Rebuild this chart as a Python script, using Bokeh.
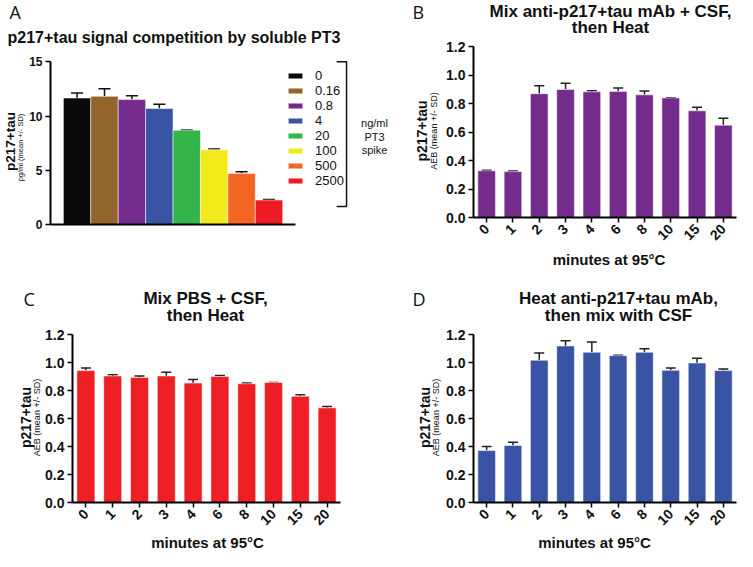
from math import pi
from bokeh.plotting import figure
from bokeh.models import (ColumnDataSource, Range1d, FactorRange, FixedTicker, PrintfTickFormatter,
                          Label, Legend, LegendItem, Whisker, TeeHead)
from bokeh.layouts import row, column
from bokeh.embed import file_html
from bokeh.resources import INLINE

# ---------------- data ----------------
A_labels = ["0", "0.16", "0.8", "4", "20", "100", "500", "2500"]
A_mean = [11.66, 11.81, 11.51, 10.69, 8.69, 6.89, 4.71, 2.25]
A_sd = [0.46, 0.70, 0.36, 0.39, 0.03, 0.06, 0.15, 0.06]
A_colors = ["#0a0a0a", "#94652b", "#752c8c", "#3a54a4", "#34b44a", "#f2eb1b", "#f26522", "#ed1c24"]
A_ticks = [0, 5, 10, 15]

minutes = ["0", "1", "2", "3", "4", "6", "8", "10", "15", "20"]
B_mean = [0.328, 0.322, 0.869, 0.898, 0.882, 0.885, 0.861, 0.839, 0.749, 0.648]
B_sd = [0.003, 0.004, 0.055, 0.044, 0.007, 0.024, 0.026, 0.002, 0.024, 0.048]
C_mean = [0.942, 0.904, 0.893, 0.904, 0.853, 0.900, 0.848, 0.857, 0.759, 0.676]
C_sd = [0.018, 0.009, 0.011, 0.027, 0.026, 0.008, 0.005, 0.001, 0.011, 0.009]
D_mean = [0.371, 0.407, 1.016, 1.118, 1.073, 1.049, 1.073, 0.944, 0.996, 0.942]
D_sd = [0.029, 0.024, 0.051, 0.038, 0.074, 0.002, 0.025, 0.016, 0.035, 0.011]
aeb_ticks = [0.0, 0.2, 0.4, 0.6, 0.8, 1.0, 1.2]

FONT = "Liberation Sans"
INK = "#111111"


def lab(p, x, y, text, size, bold=False, angle=0.0, align="center", font=FONT):
    p.add_layout(Label(x=x, y=y, x_units="screen", y_units="screen", text=text,
                       text_font=font, text_font_size=size,
                       text_font_style="bold" if bold else "normal",
                       text_align=align, text_baseline="middle", angle=angle,
                       text_color=INK))


def text_fig(w, h, top=0, bottom=0):
    p = figure(width=w, height=h, output_backend="svg", toolbar_location=None, title=None,
               x_axis_type=None, y_axis_type=None, x_range=Range1d(0, 1), y_range=Range1d(0, 1),
               min_border_left=0, min_border_right=0, min_border_top=top, min_border_bottom=bottom)
    p.outline_line_color = None
    return p


def style_axes(p, tick_size):
    for ax in p.axis:
        ax.axis_line_width = 2
        ax.axis_line_color = "black"
        ax.major_tick_line_width = 1.5
        ax.major_tick_out = 5
        ax.major_tick_in = 0
        ax.minor_tick_line_color = None
        ax.major_label_text_font = FONT
        ax.major_label_text_font_style = "bold"
        ax.major_label_text_font_size = tick_size
        ax.major_label_text_color = INK
    p.xgrid.visible = False
    p.ygrid.visible = False
    p.outline_line_color = None


# ---------------- panel A ----------------
hA = text_fig(390, 50)
lab(hA, 9, 39, "A", "18px", align="left", font="Open Sans")
lab(hA, 7, 13, "p217+tau signal competition by soluble PT3", "16px", bold=True, align="left")

lA = text_fig(26, 218, top=8, bottom=44)
lab(lA, 10, 83, "p217+tau", "13.5px", bold=True, angle=pi / 2)
lab(lA, 20, 77, "pg/ml (mean +/- SD)", "7.5px", angle=pi / 2)

pA = figure(width=364, height=218, output_backend="svg", toolbar_location=None, title=None,
            x_range=Range1d(-0.47, 11.86), y_range=Range1d(0, 15.3),
            min_border_left=23, min_border_right=2, min_border_top=8, min_border_bottom=44)
srcA = ColumnDataSource(dict(x=[i + 0.5 for i in range(len(A_mean))], top=A_mean,
                             upper=[m + s for m, s in zip(A_mean, A_sd)], color=A_colors))
rA = pA.vbar(x="x", top="top", width=1.0, bottom=0, source=srcA, fill_color="color",
             line_color="white", line_alpha=0.5, line_width=1)
pA.add_layout(Whisker(base="x", lower="top", upper="upper", source=srcA, line_color=INK,
                      line_width=1.5, lower_head=None,
                      upper_head=TeeHead(size=12, line_color=INK, line_width=1.5)))
style_axes(pA, "12px")
pA.xaxis.ticker = FixedTicker(ticks=[])
pA.xaxis.bounds = (-0.47, 8.47)
pA.yaxis.ticker = FixedTicker(ticks=A_ticks)
pA.yaxis.bounds = (0, 15)
pA.yaxis.major_label_standoff = 3

legend = Legend(items=[LegendItem(label=l, renderers=[rA], index=i) for i, l in enumerate(A_labels)],
                location=(236, 36), glyph_width=18, glyph_height=7, label_height=15,
                label_standoff=11, spacing=0, padding=0, margin=0,
                border_line_color=None, background_fill_alpha=0,
                label_text_font=FONT, label_text_font_size="13px", label_text_color=INK)
pA.add_layout(legend)
pA.line(x=[9.97, 10.33, 10.33, 9.97], y=[15.0, 15.0, 1.66, 1.66], line_color=INK, line_width=1.5)
lab(pA, 324, 102, "ng/ml", "11px")
lab(pA, 324, 88, "PT3", "11px")
lab(pA, 324, 75, "spike", "11px")

colA = column(hA, row(lA, pA))


# ---------------- panels B, C, D ----------------
def main_panel(mean, sd, color, width, height, left, right, top, bottom):
    p = figure(width=width, height=height, output_backend="svg", toolbar_location=None, title=None,
               x_range=FactorRange(*minutes, range_padding=0), y_range=Range1d(0, 1.2),
               min_border_left=left, min_border_right=right,
               min_border_top=top, min_border_bottom=bottom)
    src = ColumnDataSource(dict(x=minutes, top=mean, upper=[m + s for m, s in zip(mean, sd)]))
    p.vbar(x="x", top="top", width=0.67, bottom=0, source=src, fill_color=color,
           line_color="white", line_alpha=0.5, line_width=1)
    p.add_layout(Whisker(base="x", lower="top", upper="upper", source=src, line_color="#222222",
                         line_width=1.5, lower_head=None,
                         upper_head=TeeHead(size=10, line_color="#222222", line_width=1.5)))
    style_axes(p, "14px")
    p.yaxis.ticker = FixedTicker(ticks=aeb_ticks)
    p.yaxis.formatter = PrintfTickFormatter(format="%.1f")
    p.yaxis.major_label_standoff = 3
    p.xaxis.major_label_orientation = pi / 4
    p.xaxis.major_label_standoff = 4
    return p


def panel(mean, sd, color, letter, title1, title2, geo):
    (W, head_h, main_h, foot_h, left_w, main_left, main_right, top, bottom,
     letter_x, title_x, y1, y2, ylab_x, sub_x, xlab_x, xlab_y) = geo
    head = text_fig(W, head_h)
    lab(head, letter_x, y1, letter, "18px", align="left", font="Open Sans")
    lab(head, title_x, y1, title1, "17px", bold=True)
    lab(head, title_x, y2, title2, "17px", bold=True)
    frame_h = main_h - top - bottom
    left = text_fig(left_w, main_h, top=top, bottom=bottom)
    lab(left, ylab_x, frame_h / 2 + 1, "p217+tau", "14px", bold=True, angle=pi / 2)
    lab(left, sub_x, frame_h / 2 + 1, "AEB (mean +/- SD)", "9px", angle=pi / 2)
    main = main_panel(mean, sd, color, W - left_w, main_h, main_left, main_right, top, bottom)
    foot = text_fig(W, foot_h)
    lab(foot, xlab_x, xlab_y, "minutes at 95\u00b0C", "15px", bold=True)
    return column(head, row(left, main), foot)


colB = panel(B_mean, B_sd, "#742c8c", "B", "Mix anti-p217+tau mAb + CSF,", "then Heat",
             (347, 37, 213, 18, 53, 29, 1, 9, 33, 22, 220, 26, 10, 31.5, 43.5, 218.5, 9))
colC = panel(C_mean, C_sd, "#ed1f24", "C", "Mix PBS + CSF,", "then Heat",
             (390, 57, 208, 18, 42, 26, 50, 9, 31, 23, 205, 27, 10, 25, 36, 207, 9))
colD = panel(D_mean, D_sd, "#3953a5", "D", "Heat anti-p217+tau mAb,", "then mix with CSF",
             (347, 57, 208, 18, 53, 29, 1, 9, 31, 22, 228, 27, 10, 34, 45, 204, 9))

layout = column(row(colA, colB), row(colC, colD))
open("out.html", "w").write(file_html(layout, INLINE))
